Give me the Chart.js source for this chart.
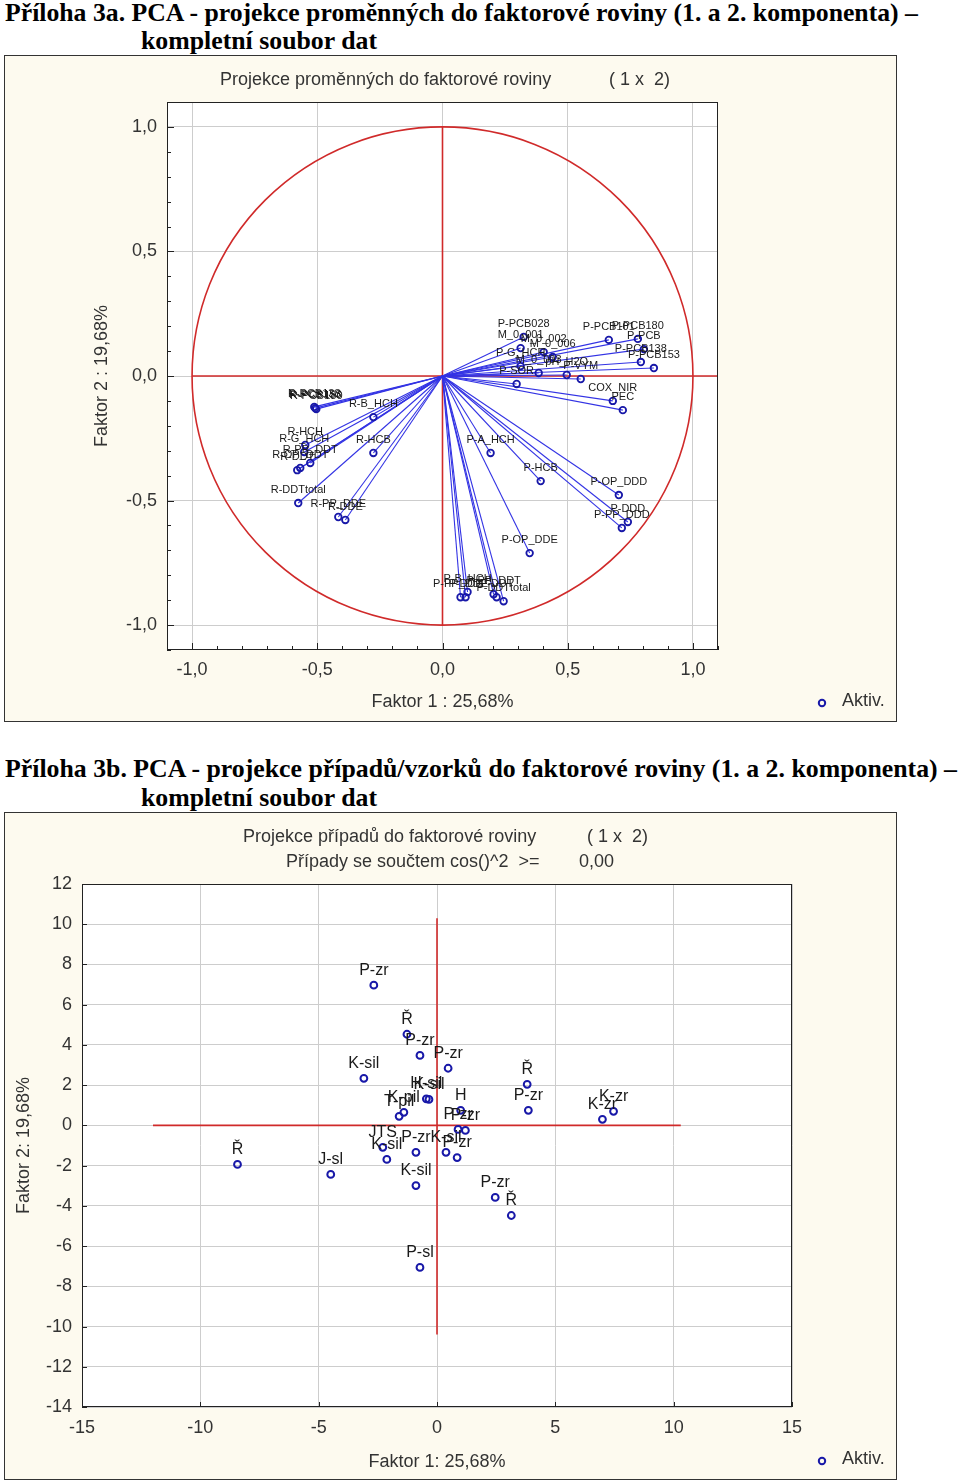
<!DOCTYPE html>
<html>
<head>
<meta charset="utf-8">
<script src="https://cdn.jsdelivr.net/npm/chart.js@4.4.1/dist/chart.umd.min.js"></script>
<style>
  body { margin: 0; background: #fff; width: 960px; height: 1484px; position: relative; overflow: hidden; }
  .hd { position: absolute; font: bold 26px "Liberation Serif", "Times New Roman", serif; line-height: 26px;
        white-space: nowrap; transform-origin: 0 0; color: #000; }
  .panel { position: absolute; left: 4px; width: 891px; border: 1px solid #333; background: #fdfaef; }
  .panel canvas { display: block; }
</style>
</head>
<body>
<div class="hd" data-w="913" style="left:5px;top:0px">Příloha 3a. PCA - projekce proměnných do faktorové roviny (1. a 2. komponenta) –</div>
<div class="hd" data-w="236" style="left:141px;top:28px">kompletní soubor dat</div>
<div class="panel" style="top:55px;height:665px"><canvas id="varChart" width="891" height="665"></canvas></div>

<div class="hd" data-w="952" style="left:5px;top:756px">Příloha 3b. PCA - projekce případů/vzorků do faktorové roviny (1. a 2. komponenta) –</div>
<div class="hd" data-w="236" style="left:141px;top:785px">kompletní soubor dat</div>
<div class="panel" style="top:812px;height:666px"><canvas id="caseChart" width="891" height="666"></canvas></div>

<script>
// --- 3a: variable loadings (Faktor 1, Faktor 2)
const varNames = [
  'P-PCB028', 'M_0_001', 'M_0_002', 'M_0_006', 'P-G_HCH', 'M_0_003', 'pH_H2O', 'P-VYM', 'P-SOR',
  'P-PCB101', 'P-PCB180', 'P-PCB', 'P-PCB138', 'P-PCB153', 'COX_NIR', 'PEC',
  'R-PCB153', 'R-PCB138', 'R-PCB180', 'R-B_HCH', 'R-HCH', 'R-G_HCH', 'R-PP_DDT', 'R-OP_DDT', 'R-DDT',
  'R-HCB', 'R-DDTtotal', 'R-PP_DDE', 'R-DDE',
  'P-A_HCH', 'P-HCB', 'P-OP_DDD', 'P-DDD', 'P-PP_DDD', 'P-OP_DDE',
  'P-PP_DDE', 'P-DDE', 'P-B_HCH', 'P-PP_DDT', 'P-DDT', 'P-DDTtotal'
];
const varF1 = [
  0.324, 0.312, 0.404, 0.440, 0.312, 0.384, 0.496, 0.552, 0.296,
  0.664, 0.780, 0.804, 0.792, 0.844, 0.680, 0.720,
  -0.508, -0.512, -0.504, -0.276, -0.548, -0.552, -0.528, -0.568, -0.580,
  -0.276, -0.576, -0.416, -0.388,
  0.192, 0.392, 0.704, 0.740, 0.716, 0.348,
  0.072, 0.092, 0.100, 0.204, 0.216, 0.244
];
const varF2 = [
  0.157, 0.112, 0.096, 0.076, 0.040, 0.012, 0.004, -0.012, -0.032,
  0.145, 0.149, 0.108, 0.056, 0.032, -0.100, -0.137,
  -0.129, -0.124, -0.133, -0.165, -0.277, -0.305, -0.349, -0.369, -0.378,
  -0.309, -0.510, -0.566, -0.578,
  -0.309, -0.422, -0.478, -0.586, -0.610, -0.711,
  -0.888, -0.888, -0.867, -0.876, -0.888, -0.904
];
const varTicks = [-1, -0.5, 0, 0.5, 1];
const varCrossH = [-1.0, 1.1];   // red line along Faktor 2 = 0
const varCrossV = [-1.0, 1.0];   // red line along Faktor 1 = 0

// --- 3b: case scores
const caseNames = [
  'P-zr', 'Ř', 'P-zr', 'P-zr', 'K-sil', 'K-sil', 'H-sil', 'K-pil', 'T-pil', 'H',
  'P-zr', 'P-zr', 'JTS', 'K-sil', 'P-zr', 'K-sil', 'P-zr', 'K-sil', 'J-sl', 'Ř',
  'P-zr', 'Ř', 'P-sl', 'Ř', 'P-zr', 'K-zr', 'K-zr'
];
const caseF1 = [
  -2.67, -1.27, -0.72, 0.47, -3.09, -0.34, -0.45, -1.40, -1.60, 1.00,
  0.89, 1.20, -2.29, -2.12, -0.89, 0.38, 0.85, -0.89, -4.49, -8.43,
  2.46, 3.14, -0.72, 3.81, 3.86, 7.46, 6.99
];
const caseF2 = [
  6.97, 4.53, 3.48, 2.84, 2.34, 1.29, 1.32, 0.65, 0.45, 0.75,
  -0.20, -0.25, -1.09, -1.69, -1.34, -1.34, -1.60, -2.99, -2.44, -1.94,
  -3.58, -4.48, -7.06, 2.04, 0.75, 0.70, 0.30
];
const caseXTicks = [-15, -10, -5, 0, 5, 10, 15];
const caseYTicks = [12, 10, 8, 6, 4, 2, 0, -2, -4, -6, -8, -10, -12, -14];
const caseCrossH = [-12.0, 10.3];
const caseCrossV = [-10.4, 10.3];

const FONT = '"Liberation Sans", Arial, sans-serif';
const INK = '#333';
const RED = '#d02a2a';
const BLUE = '#3333e4';
const NAVY = '#1818a8';
const GRID = '#cdcdcd';

// headings squeezed to the reference width
document.querySelectorAll('.hd').forEach(el => {
  const w = el.getBoundingClientRect().width;
  el.style.transform = 'scaleX(' + (el.dataset.w / w) + ')';
});

function makeDecor(s) {
  return {
    id: 'decor',
    beforeDraw(chart) {
      const { ctx, chartArea: a } = chart;
      ctx.save();
      ctx.fillStyle = '#fff';
      ctx.fillRect(a.left, a.top, a.right - a.left, a.bottom - a.top);
      ctx.restore();
    },
    beforeDatasetsDraw(chart) {
      if (!s.circle) return;
      const { ctx, scales: { x, y } } = chart;
      const cx = x.getPixelForValue(0), cy = y.getPixelForValue(0);
      ctx.save();
      ctx.beginPath();
      ctx.ellipse(cx, cy, x.getPixelForValue(1) - cx, cy - y.getPixelForValue(1), 0, 0, Math.PI * 2);
      ctx.strokeStyle = RED;
      ctx.lineWidth = 1.6;
      ctx.stroke();
      ctx.restore();
    },
    afterDatasetsDraw(chart) {
      const { ctx, chartArea: a, scales: { x, y } } = chart;
      ctx.save();
      ctx.strokeStyle = '#222';
      ctx.lineWidth = 1;
      ctx.strokeRect(Math.round(a.left) + 0.5, Math.round(a.top) + 0.5,
        Math.round(a.right - a.left) - 1, Math.round(a.bottom - a.top) - 1);
      // inward tick marks
      ctx.beginPath();
      s.xMarks.forEach(m => {
        const px = Math.round(x.getPixelForValue(m[0])) + 0.5;
        ctx.moveTo(px, a.bottom); ctx.lineTo(px, a.bottom - m[1]);
      });
      s.yMarks.forEach(m => {
        const py = Math.round(y.getPixelForValue(m[0])) + 0.5;
        ctx.moveTo(a.left, py); ctx.lineTo(a.left + m[1], py);
      });
      ctx.stroke();
      // point labels
      ctx.font = s.labelFont;
      ctx.fillStyle = '#1a1a1a';
      ctx.textAlign = 'center';
      ctx.textBaseline = 'middle';
      s.names.forEach((t, i) => {
        ctx.fillText(t, x.getPixelForValue(s.xs[i]), y.getPixelForValue(s.ys[i]) - s.gap);
      });
      ctx.restore();
    },
    afterDraw(chart) {
      const ctx = chart.ctx;
      ctx.save();
      ctx.font = '18px ' + FONT;
      ctx.fillStyle = INK;
      ctx.textBaseline = 'middle';
      ctx.textAlign = 'left';
      s.titles.forEach(t => ctx.fillText(t[0], t[1], t[2]));
      const [lx, ly] = s.legend;
      ctx.beginPath();
      ctx.arc(lx, ly, 3.2, 0, Math.PI * 2);
      ctx.strokeStyle = NAVY;
      ctx.lineWidth = 2;
      ctx.stroke();
      ctx.fillText('Aktiv.', lx + 20, ly - 2);
      ctx.restore();
    }
  };
}

function axis(min, max, ticks, fmt, title, fit, pad, titlePad) {
  return {
    type: 'linear', min, max,
    afterBuildTicks: sc => { sc.ticks = ticks.map(v => ({ value: v })); },
    afterFit: fit,
    ticks: { callback: fmt, font: { size: 18, family: FONT }, color: INK, padding: pad, autoSkip: false, maxRotation: 0 },
    grid: { color: GRID, drawTicks: false },
    border: { display: false },
    title: { display: true, text: title, font: { size: 18, family: FONT }, color: INK, padding: titlePad }
  };
}

function refLine(xs, ys) {
  return { data: xs.map((v, i) => ({ x: v, y: ys[i] })), showLine: true, borderColor: RED, borderWidth: 1.6, pointRadius: 0, order: 10 };
}

// ---------- 3a
const fmtDec = v => v.toFixed(1).replace('.', ',').replace('-0,0', '0,0');
const minorVar = [];
for (let k = -11; k <= 11; k++) minorVar.push([k / 10, k % 5 === 0 ? 7 : 4]);

const varSets = varNames.map((n, i) => ({
  label: n,
  data: [{ x: 0, y: 0 }, { x: varF1[i], y: varF2[i] }],
  showLine: true,
  borderColor: BLUE,
  borderWidth: 1.1,
  pointRadius: [0, 3.3],
  pointBorderWidth: 1.8,
  pointBorderColor: NAVY,
  pointBackgroundColor: 'rgba(0,0,0,0)',
  order: 1
}));
varSets.push(refLine(varCrossH, [0, 0]));
varSets.push(refLine([0, 0], varCrossV));

new Chart(document.getElementById('varChart'), {
  type: 'scatter',
  data: { datasets: varSets },
  options: {
    responsive: false, animation: false,
    layout: { padding: { top: 46, left: 72, right: 178, bottom: 0 } },
    plugins: { legend: { display: false }, tooltip: { enabled: false } },
    scales: {
      x: axis(-1.1, 1.1, varTicks, fmtDec, 'Faktor 1 : 25,68%', sc => { sc.height = 71; }, 9, { top: 0, bottom: 8 }),
      y: axis(-1.1, 1.1, varTicks, fmtDec, 'Faktor 2 : 19,68%', sc => { sc.width = 90; }, 10, { top: 14, bottom: 0 })
    }
  },
  plugins: [makeDecor({
    circle: true,
    names: varNames, xs: varF1, ys: varF2, gap: 13, labelFont: '11px ' + FONT,
    xMarks: minorVar, yMarks: minorVar,
    titles: [['Projekce proměnných do faktorové roviny', 215, 24], ['( 1 x  2)', 604, 24]],
    legend: [817, 647]
  })]
});

// ---------- 3b
new Chart(document.getElementById('caseChart'), {
  type: 'scatter',
  data: {
    datasets: [
      {
        label: 'Aktiv.',
        data: caseF1.map((v, i) => ({ x: v, y: caseF2[i] })),
        pointRadius: 3.4,
        pointBorderWidth: 2,
        pointBorderColor: NAVY,
        pointBackgroundColor: 'rgba(0,0,0,0)',
        order: 1
      },
      refLine(caseCrossH, [0, 0]),
      refLine([0, 0], caseCrossV)
    ]
  },
  options: {
    responsive: false, animation: false,
    layout: { padding: { top: 71, left: 0, right: 104, bottom: 0 } },
    plugins: { legend: { display: false }, tooltip: { enabled: false } },
    scales: {
      x: axis(-15, 15, caseXTicks, v => String(v), 'Faktor 1: 25,68%', sc => { sc.height = 72; }, 10, { top: 0, bottom: 6 }),
      y: axis(-14, 12, caseYTicks, v => String(v), 'Faktor 2: 19,68%', sc => { sc.width = 77; }, 10, { top: 8, bottom: 0 })
    }
  },
  plugins: [makeDecor({
    circle: false,
    names: caseNames, xs: caseF1, ys: caseF2, gap: 15, labelFont: '16px ' + FONT,
    xMarks: caseXTicks.map(v => [v, 5]), yMarks: caseYTicks.map(v => [v, 5]),
    titles: [['Projekce případů do faktorové roviny', 238, 24], ['( 1 x  2)', 582, 24],
             ['Případy se součtem cos()^2  >=', 281, 49], ['0,00', 574, 49]],
    legend: [817, 648]
  })]
});
</script>
</body>
</html>
